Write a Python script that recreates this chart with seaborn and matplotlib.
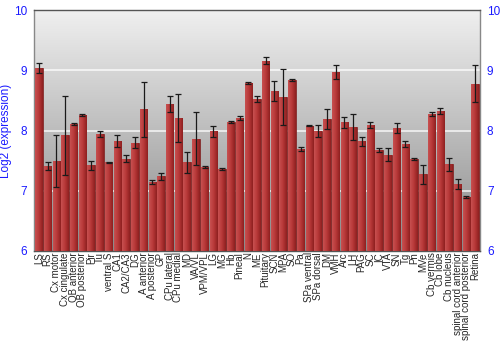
import numpy as np
import pandas as pd
import matplotlib
matplotlib.use("Agg")
import matplotlib.pyplot as plt
import seaborn as sns
from matplotlib.colors import LinearSegmentedColormap

regions = ["LS", "RS", "Cx motor", "Cx cingulate", "OB anterior", "OB posterior", "Pir", "Tu",
           "ventral S", "CA1", "CA2/CA3", "DG", "A anterior", "A posterior", "GP", "CPu lateral",
           "CPu medial", "MD", "VA/VL", "VPM/VPL", "LG", "MG", "Hb", "Pineal", "N", "ME",
           "Pituitary", "SCN", "MPA", "SO", "Pa", "SPa ventral", "SPa dorsal", "DM", "VMH", "Arc",
           "LH", "PAG", "SC", "IC", "VTA", "SN", "Tg", "Pn", "MVe", "Cb vermis", "Cb lobe",
           "Cb nucleus", "spinal cord anterior", "spinal cord posterior", "Retina"]
expression = [9.04, 7.41, 7.50, 7.92, 8.11, 8.26, 7.42, 7.95, 7.47, 7.82, 7.53, 7.80, 8.35, 7.15,
              7.24, 8.44, 8.21, 7.47, 7.86, 7.39, 7.99, 7.36, 8.14, 8.21, 8.79, 8.52, 9.16, 8.66,
              8.56, 8.84, 7.69, 8.08, 8.00, 8.19, 8.97, 8.14, 8.06, 7.82, 8.10, 7.68, 7.60, 8.04,
              7.78, 7.53, 7.27, 8.27, 8.33, 7.44, 7.11, 6.90, 8.78]
error = [0.08, 0.07, 0.43, 0.66, 0.01, 0.02, 0.08, 0.05, 0.01, 0.10, 0.06, 0.09, 0.46, 0.03,
         0.06, 0.14, 0.40, 0.17, 0.44, 0.02, 0.09, 0.02, 0.02, 0.03, 0.01, 0.05, 0.06, 0.17,
         0.47, 0.02, 0.03, 0.01, 0.10, 0.17, 0.12, 0.09, 0.22, 0.08, 0.05, 0.03, 0.11, 0.08,
         0.05, 0.02, 0.15, 0.03, 0.05, 0.11, 0.08, 0.02, 0.31]
y_ticks = [6, 7, 8, 9, 10]

df = pd.DataFrame({"region": regions, "expr": expression, "err": error})

sns.set_style("white")
plt.rcParams['font.family'] = ['Liberation Sans', 'DejaVu Sans']

fig = plt.figure(figsize=(5, 3.5), dpi=100)
ax = fig.add_axes([0.068, 0.283, 0.892, 0.688])

# background gradient
grad = np.linspace(0.94, 0.54, 256).reshape(-1, 1)
ax.imshow(np.dstack([grad, grad, grad]), extent=[0, 1, 0, 1], transform=ax.transAxes,
          aspect="auto", zorder=0)

sns.barplot(data=df, x="region", y="expr", color="#b53535", width=0.86,
            edgecolor="#7a1818", linewidth=0.5, ax=ax, zorder=3)

# bar shading gradient
shade = np.linspace(0, 1, 64).reshape(1, -1)
cmap = LinearSegmentedColormap.from_list("barshade", ["#c85050", "#b73838", "#8e2020"])
for p in ax.patches:
    x0, w = p.get_x(), p.get_width()
    h = p.get_height()
    im = ax.imshow(shade, extent=[x0, x0 + w, 6, h], aspect="auto", cmap=cmap,
                   zorder=3.5, interpolation="bilinear")
    im.set_clip_path(p)

centers = [p.get_x() + p.get_width() / 2 for p in ax.patches]
ax.errorbar(centers, df["expr"], yerr=df["err"], fmt="none", ecolor="#1a1a1a",
            elinewidth=0.9, capsize=2, capthick=0.9, zorder=5)

ax.set_ylim(6, 10)
ax.set_xlim(-0.55, len(regions) - 0.45)
ax.set_yticks(y_ticks)
for y in [7, 8, 9]:
    ax.axhline(y, color="white", linewidth=1.2, alpha=0.8, zorder=1)

ax.tick_params(axis="y", which="both", left=False, right=False, labelleft=True,
               labelright=True, labelsize=8.5, labelcolor="#1a1aff", pad=1.5)
ax.tick_params(axis="x", length=0, labelsize=7.0, pad=1, rotation=90)
ax.set_xlabel("")
ax.set_ylabel("Log2 (expression)", color="#1a1aff", fontsize=8.5, labelpad=1)

for s in ["top", "bottom"]:
    ax.spines[s].set_color("#555555")
    ax.spines[s].set_linewidth(1.0)
for s in ["left", "right"]:
    ax.spines[s].set_color("#888888")
    ax.spines[s].set_linewidth(1.0)
for s in ax.spines.values():
    s.set_visible(True)

fig.savefig("out.png", dpi=100)
